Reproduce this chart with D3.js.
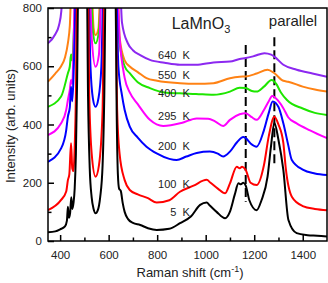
<!DOCTYPE html>
<html>
<head>
<meta charset="utf-8">
<script src="https://cdn.jsdelivr.net/npm/d3@7"></script>
<style>
  body { margin: 0; background: #fff; }
  svg text { font-family: Arial, "Liberation Sans", sans-serif; fill: #222; }
</style>
</head>
<body>
<svg class="canvas" width="328" height="283"></svg>
<script>
// Raman spectra of LaMnO3, parallel polarisation
const temps = ["5 K", "100 K", "200 K", "295 K", "400 K", "550 K", "640 K"];
const colors = ["#000000", "#ff0000", "#0000ff", "#ff00ff", "#1ee600", "#ff8214", "#8c28f0"];

const s5 = [[350,30],[380,33],[400,40],[420,50],[428,70],[432,118],[436,80],[441,95],[446,150],[450,110],[455,130],[460,180],[465,300],[470,550],[475,900],[510,900],[515,500],[522,250],[530,150],[538,110],[546,95],[555,105],[565,150],[575,260],[582,500],[588,900],[628,900],[633,450],[638,230],[643,180],[650,172],[658,130],[666,100],[680,75],[700,62],[730,55],[762,44],[798,38],[850,42],[894,61],[940,85],[977,124],[1004,132],[1017,122],[1045,100],[1080,78],[1100,101],[1120,160],[1135,198],[1145,195],[1155,200],[1165,190],[1180,140],[1210,106],[1230,140],[1255,221],[1269,324],[1283,405],[1300,347],[1320,244],[1341,72],[1375,27],[1420,20],[1460,18],[1500,15]];
const s100 = [[350,106],[404,141],[425,170],[432,209],[438,230],[445,336],[450,250],[455,240],[460,320],[465,500],[470,900],[515,900],[520,500],[530,300],[546,221],[560,260],[575,450],[582,900],[628,900],[635,450],[645,300],[666,209],[687,175],[720,160],[762,147],[798,132],[850,140],[894,169],[950,190],[1004,210],[1020,200],[1050,180],[1080,164],[1100,198],[1128,255],[1140,250],[1150,255],[1165,244],[1185,200],[1210,192],[1240,260],[1260,360],[1283,427],[1300,400],[1320,337],[1330,250],[1355,152],[1400,120],[1450,110],[1500,106]];
const s200 = [[350,272],[404,318],[425,380],[432,427],[440,460],[445,530],[450,480],[455,560],[460,700],[465,900],[515,900],[525,600],[535,490],[546,461],[558,490],[570,600],[580,900],[630,900],[640,600],[655,500],[666,450],[687,393],[720,355],[756,324],[800,300],[850,282],[880,278],[920,290],[963,302],[1017,307],[1050,300],[1072,290],[1100,307],[1130,340],[1155,357],[1165,353],[1185,335],[1210,324],[1240,380],[1260,440],[1276,479],[1300,460],[1320,404],[1340,330],[1355,278],[1400,245],[1450,232],[1500,227]];
const s295 = [[350,364],[404,404],[425,450],[432,484],[440,520],[445,553],[450,540],[455,650],[462,900],[520,900],[530,700],[546,598],[560,640],[572,900],[632,900],[645,700],[666,560],[687,510],[720,470],[770,416],[825,395],[900,405],[963,421],[1010,420],[1040,410],[1072,395],[1100,416],[1140,435],[1165,439],[1190,425],[1210,416],[1240,450],[1260,480],[1274,498],[1300,480],[1320,456],[1340,425],[1375,404],[1430,380],[1500,353]];
const s400 = [[350,461],[404,496],[432,576],[440,600],[445,640],[450,620],[458,750],[465,900],[525,900],[535,720],[546,679],[560,720],[572,900],[630,900],[645,680],[666,600],[687,576],[720,545],[770,525],[830,510],[894,507],[960,505],[1032,502],[1100,513],[1140,526],[1165,525],[1190,515],[1210,513],[1240,530],[1272,553],[1290,540],[1310,510],[1335,484],[1400,455],[1450,440],[1500,433]];
const s550 = [[350,547],[380,575],[404,600],[420,630],[432,679],[440,740],[448,900],[528,900],[538,730],[546,707],[558,730],[568,900],[636,900],[645,700],[666,620],[687,599],[720,580],[756,559],[800,550],[894,542],[960,540],[1032,542],[1100,559],[1140,564],[1165,565],[1210,575],[1255,588],[1283,576],[1320,550],[1340,547],[1400,530],[1450,520],[1500,513]];
const s640 = [[350,679],[380,710],[395,740],[405,790],[412,900],[645,900],[655,750],[679,679],[700,655],[730,638],[770,622],[830,612],[894,605],[960,605],[1032,613],[1100,616],[1140,625],[1165,628],[1200,635],[1242,645],[1270,640],[1283,633],[1320,605],[1375,588],[1440,575],[1500,564]];
const spectra = [s5, s100, s200, s295, s400, s550, s640];

const markers = [1165, 1283];
const xTicks = [400, 600, 800, 1000, 1200, 1400];
const xMinor = [500, 700, 900, 1100, 1300];
const yTicks = [0, 200, 400, 600, 800];
const yMinor = [100, 300, 500, 700];

const svg = d3.select(".canvas");
const margin = { top: 8, bottom: 42, left: 48, right: 1 };
const width = 328 - margin.left - margin.right;
const height = 283 - margin.top - margin.bottom;

const x = d3.scaleLinear().domain([350, 1500]).range([0, width]);
const y = d3.scaleLinear().domain([0, 800]).range([height, 0]);

const graph = svg.append("g")
  .attr("transform", `translate(${margin.left}, ${margin.top})`);

graph.append("clipPath").attr("id", "clip")
  .append("rect").attr("width", width).attr("height", height);

const line = d3.line()
  .x((d) => x(d[0]))
  .y((d) => y(d[1]))
  .curve(d3.curveMonotoneX);

const plot = graph.append("g").attr("clip-path", "url(#clip)");

// dashed guide lines
const markerSpan = [[700, 265], [673, 135]];
plot.selectAll(".marker")
  .data(markers)
  .enter()
  .append("line")
  .attr("x1", (d) => x(d))
  .attr("x2", (d) => x(d))
  .attr("y1", (d, i) => y(markerSpan[1 - i][0]))
  .attr("y2", (d, i) => y(markerSpan[1 - i][1]))
  .attr("stroke", "#000")
  .attr("stroke-width", 2)
  .attr("stroke-dasharray", "9,4");

// hotter curves first so the 5 K trace sits on top
plot.selectAll(".spec")
  .data(spectra.slice().reverse())
  .enter()
  .append("path")
  .attr("d", (d) => line(d))
  .attr("fill", "none")
  .attr("stroke", (d, i) => colors[colors.length - 1 - i])
  .attr("stroke-width", 2)
  .attr("stroke-linejoin", "round");

// axes with inward ticks
const xAxis = d3.axisBottom(x).tickValues(xTicks).tickFormat(d3.format("d"))
  .tickSizeInner(-6).tickSizeOuter(0).tickPadding(10);
const xAxisMinor = d3.axisBottom(x).tickValues(xMinor).tickSizeInner(-3.5).tickSizeOuter(0).tickFormat("");
const yAxis = d3.axisLeft(y).tickValues(yTicks).tickFormat(d3.format("d"))
  .tickSizeInner(-6).tickSizeOuter(0).tickPadding(6);
const yAxisMinor = d3.axisLeft(y).tickValues(yMinor).tickSizeInner(-3.5).tickSizeOuter(0).tickFormat("");

graph.append("g").attr("transform", `translate(0,${height})`).call(xAxis);
graph.append("g").attr("transform", `translate(0,${height})`).call(xAxisMinor);
graph.append("g").call(yAxis);
graph.append("g").call(yAxisMinor);

graph.selectAll(".domain").remove();
graph.selectAll(".tick line").attr("stroke", "#000").attr("stroke-width", 1.5);
graph.selectAll(".tick text").attr("font-size", 11.5).style("fill", "#222");

graph.append("rect")
  .attr("width", width)
  .attr("height", height)
  .attr("fill", "none")
  .attr("stroke", "#000")
  .attr("stroke-width", 1.5);

// temperature labels, right aligned
const labelY = [86, 183, 312, 415, 493, 555, 624];
graph.selectAll(".tlabel")
  .data(temps)
  .enter()
  .append("text")
  .attr("x", x(935))
  .attr("y", (d, i) => y(labelY[i]))
  .attr("text-anchor", "end")
  .attr("font-size", 11)
  .text((d) => d.replace(" ", "\u00a0\u00a0"));

const title = graph.append("text")
  .attr("x", x(860))
  .attr("y", 21)
  .attr("font-size", 16);
title.append("tspan").text("LaMnO");
title.append("tspan").attr("font-size", 11).attr("dy", 4).text("3");

graph.append("text")
  .attr("x", x(1360))
  .attr("y", 18)
  .attr("text-anchor", "middle")
  .attr("font-size", 15)
  .text("parallel");

const xl = svg.append("text")
  .attr("x", 190)
  .attr("y", 277)
  .attr("text-anchor", "middle")
  .attr("font-size", 13);
xl.append("tspan").text("Raman shift (cm");
xl.append("tspan").attr("font-size", 9).attr("dy", -5).text("-1");
xl.append("tspan").attr("dy", 5).text(")");

svg.append("text")
  .attr("transform", "translate(15,126) rotate(-90)")
  .attr("text-anchor", "middle")
  .attr("font-size", 13)
  .text("Intensity (arb. units)");
</script>
</body>
</html>
